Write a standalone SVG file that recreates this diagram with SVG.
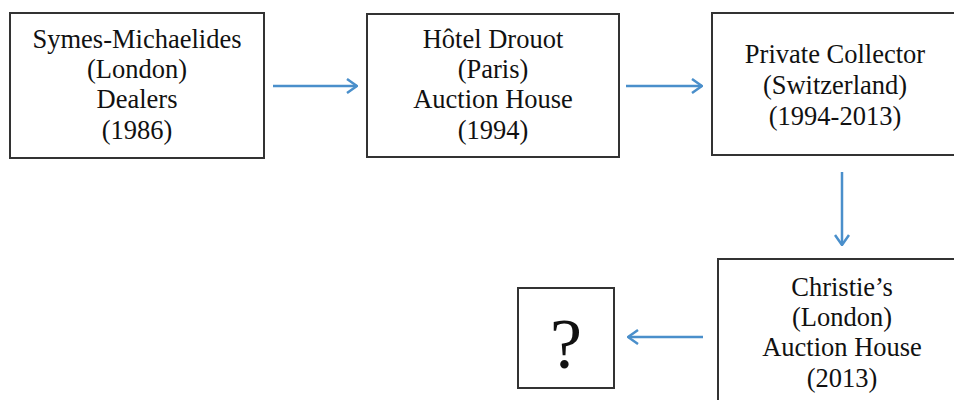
<svg xmlns="http://www.w3.org/2000/svg" width="954" height="400" viewBox="0 0 954 400">
<defs>
<style>
.box{fill:#fff;stroke:#333;stroke-width:2}
.t{font-family:'Liberation Serif',Tinos,'Times New Roman',serif;font-size:26.5px;fill:#111;text-anchor:middle}
.q{font-family:'Liberation Serif',Tinos,'Times New Roman',serif;font-size:72px;fill:#111;text-anchor:middle}
.c{stroke:#4a8fcb;stroke-width:2.5;fill:none}
</style>
<marker id="ah" viewBox="0 0 12 16" refX="11" refY="8" markerWidth="12" markerHeight="16" markerUnits="userSpaceOnUse" orient="auto">
<path d="M1,1 L11,8 L1,15" fill="none" stroke="#4a8fcb" stroke-width="2.5"/>
</marker>
</defs>
<rect width="954" height="400" fill="#fff"/>
<g id="n1">
<rect class="box" x="10" y="13" width="254" height="145"/>
<text class="t" x="137" y="48">Symes-Michaelides</text>
<text class="t" x="137" y="78">(London)</text>
<text class="t" x="137" y="108">Dealers</text>
<text class="t" x="137" y="139">(1986)</text>
</g>
<g id="n2">
<rect class="box" x="367" y="14" width="252" height="143"/>
<text class="t" x="493" y="48">Hôtel Drouot</text>
<text class="t" x="493" y="78">(Paris)</text>
<text class="t" x="493" y="108">Auction House</text>
<text class="t" x="493" y="139">(1994)</text>
</g>
<g id="n3">
<rect class="box" x="712" y="13" width="246" height="142"/>
<text class="t" x="835" y="63">Private Collector</text>
<text class="t" x="835" y="94">(Switzerland)</text>
<text class="t" x="835" y="125">(1994-2013)</text>
</g>
<g id="n4">
<rect class="box" x="718" y="259" width="250" height="150"/>
<text class="t" x="842" y="296">Christie’s</text>
<text class="t" x="842" y="326">(London)</text>
<text class="t" x="842" y="356">Auction House</text>
<text class="t" x="842" y="387">(2013)</text>
</g>
<g id="n5">
<rect class="box" x="518" y="288" width="96" height="100"/>
<text class="q" x="566" y="368">?</text>
</g>
<g id="connectors">
<line class="c" x1="273" y1="86" x2="357" y2="86" marker-end="url(#ah)"/>
<line class="c" x1="626" y1="86" x2="702" y2="86" marker-end="url(#ah)"/>
<line class="c" x1="842" y1="172" x2="842" y2="245" marker-end="url(#ah)"/>
<line class="c" x1="703" y1="337" x2="628" y2="337" marker-end="url(#ah)"/>
</g>
</svg>
